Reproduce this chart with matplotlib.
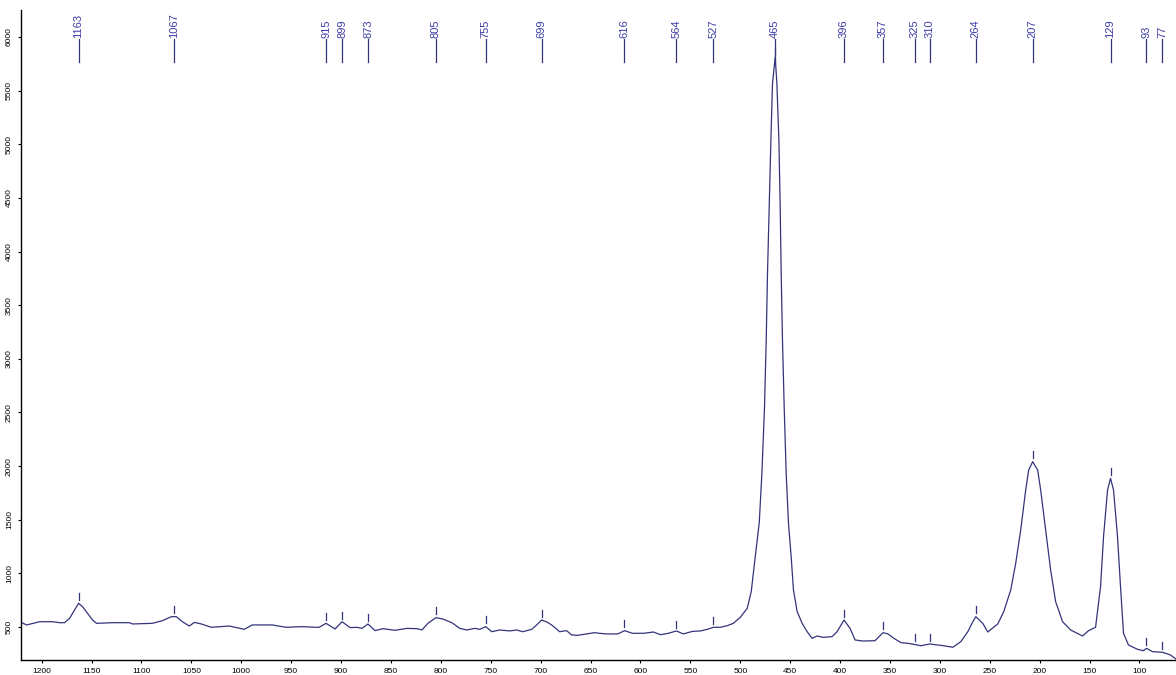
import numpy as np
import matplotlib
matplotlib.use("Agg")
import matplotlib.pyplot as plt

plt.rcParams['font.family'] = ['Liberation Sans', 'DejaVu Sans']

# Raman shift (cm-1) and intensity
wavenumber = [1222, 1215, 1202, 1189, 1182, 1177, 1172, 1167, 1163, 1159, 1154, 1149, 1145,
              1129, 1112, 1109, 1089, 1079, 1070, 1065, 1059, 1052, 1047, 1040, 1030, 1012,
              997, 989, 969, 955, 939, 925, 922, 915, 906, 899, 891, 884, 879, 873, 866, 858,
              846, 834, 824, 819, 813, 805, 798, 789, 781, 774, 766, 761, 755, 749, 741, 731,
              724, 718, 709, 704, 699, 693, 688, 681, 674, 669, 663, 654, 646, 641, 634, 623,
              620, 616, 608, 597, 587, 580, 572, 564, 557, 548, 540, 533, 527, 520, 513, 507,
              500, 493, 489, 485, 481, 478.3, 475.7, 474, 472.7, 471, 469.3, 467.7, 465,
              463.3, 461.3, 460, 459, 457.7, 456, 454, 451.7, 449, 446.7, 443, 438, 433, 428,
              423, 417, 408, 403, 396, 390, 385, 377, 365, 357, 352, 346, 339, 332, 326, 322,
              319, 314, 310, 305, 299, 293, 287, 279, 272, 267, 264, 257, 252, 242, 236, 229,
              224, 219, 214, 211, 207, 202, 199, 194, 189, 184, 177, 169, 157, 151, 144, 139,
              136, 132, 129, 126, 122, 119, 116, 111, 102, 96, 93, 87, 77, 69, 63]
intensity = [549, 519, 549, 549, 540, 540, 581, 658, 721, 689, 627, 565, 534,
             540, 540, 528, 534, 559, 596, 596, 549, 509, 543, 528, 497, 509,
             478, 519, 519, 497, 503, 497, 497, 534, 481, 549, 494, 497, 487, 528, 466, 484,
             469, 487, 484, 472, 534, 587, 574, 540, 487, 472, 487, 478, 503, 456, 472, 463,
             472, 456, 478, 519, 565, 543, 512, 456, 466, 426, 422, 435, 447, 441, 435, 435,
             447, 466, 441, 441, 453, 428, 441, 463, 435, 459, 463, 478, 497, 497, 512, 534,
             590, 674, 830, 1155, 1469, 1935, 2553, 3175, 3799, 4417, 5039, 5567, 5812,
             5567, 5039, 4417, 3799, 3175, 2553, 1935, 1469, 1155, 845, 643, 534, 456, 394,
             416, 403, 410, 456, 565, 487, 379, 369, 372, 447, 435, 394, 354, 348, 338, 330,
             325, 335, 342, 335, 329, 320, 311, 363, 456, 549, 596, 534, 453, 528, 643, 845,
             1094, 1404, 1777, 1963, 2041, 1963, 1777, 1404, 1031, 736, 549, 472, 416, 466, 497, 876,
             1342, 1777, 1886, 1777, 1342, 876, 441, 332, 292, 279, 301, 270, 264, 239, 199]

peak_labels = [1163, 1067, 915, 899, 873, 805, 755, 699, 616, 564, 527, 465,
               396, 357, 325, 310, 264, 207, 129, 93, 77]

y_ticks = list(range(500, 6001, 500))
x_ticks = list(range(1200, 99, -50))

line_col = '#34347c'
text_col = '#3c3ca6'

fig = plt.figure(figsize=(11.76, 6.75), dpi=100)
ax = fig.add_axes([0.0176, 0.0222, 0.9824, 0.9630])

wn = np.array(wavenumber, dtype=float)
iv = np.array(intensity, dtype=float)
ax.plot(wn, iv, color=line_col, lw=0.9)

# peak labels at the top and small markers above each peak
order = np.argsort(wn)
for p in peak_labels:
    ax.plot([p, p], [5766, 5982], color=line_col, lw=0.9)
    ax.text(p, 5988, str(p), rotation=90, ha='center', va='bottom',
            fontsize=8, color=text_col)
    h = np.interp(p, wn[order], iv[order])
    ax.plot([p, p], [h + 30, h + 95], color=line_col, lw=0.9)

ax.set_xlim(1221, 63.4)
ax.set_ylim(192, 6252)
ax.set_xticks(x_ticks)
ax.set_yticks(y_ticks)
ax.set_yticklabels([str(v) for v in y_ticks], rotation=90, va='center')
ax.tick_params(axis='both', labelsize=6, length=2.5, width=0.8, colors='black')
ax.tick_params(axis='y', pad=3)
ax.tick_params(axis='x', pad=3)
for s in ['top', 'right']:
    ax.spines[s].set_visible(False)
for s in ['left', 'bottom']:
    ax.spines[s].set_linewidth(1.0)

fig.savefig('out.png', dpi=100)
